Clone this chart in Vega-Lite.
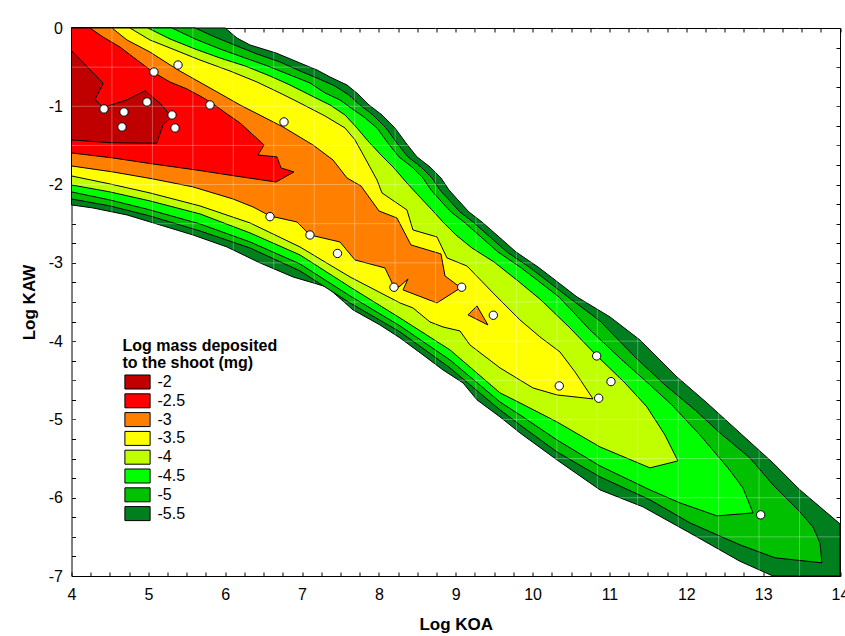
{
"$schema": "https://vega.github.io/schema/vega-lite/v6.json",
"width": 768.5, "height": 548,
"autosize": {"type": "none"},
"padding": {"left": 71.5, "top": 28, "right": 5, "bottom": 60},
"background": "white",
"config": {
 "font": "Liberation Sans",
 "view": {"stroke": null},
 "axis": {"domainColor": "black", "domainWidth": 1, "tickColor": "black", "tickWidth": 1, "labelColor": "black", "labelFont": "Liberation Sans", "labelFontSize": 16, "titleFont": "Liberation Sans", "titleFontSize": 17, "titleFontWeight": "bold", "titleColor": "black", "grid": false, "zindex": 1}
},
"datasets": {
 "contours": [
{"level":"-5.5","poly":1,"x":4,"y":0},{"level":"-5.5","poly":1,"x":6.0,"y":0},{"level":"-5.5","poly":1,"x":6.153,"y":-0.128},{"level":"-5.5","poly":1,"x":6.323,"y":-0.217},{"level":"-5.5","poly":1,"x":6.661,"y":-0.319},{"level":"-5.5","poly":1,"x":6.973,"y":-0.447},{"level":"-5.5","poly":1,"x":7.194,"y":-0.536},{"level":"-5.5","poly":1,"x":7.364,"y":-0.626},{"level":"-5.5","poly":1,"x":7.585,"y":-0.728},{"level":"-5.5","poly":1,"x":7.728,"y":-0.843},{"level":"-5.5","poly":1,"x":7.871,"y":-0.983},{"level":"-5.5","poly":1,"x":8.04,"y":-1.111},{"level":"-5.5","poly":1,"x":8.209,"y":-1.277},{"level":"-5.5","poly":1,"x":8.352,"y":-1.469},{"level":"-5.5","poly":1,"x":8.496,"y":-1.647},{"level":"-5.5","poly":1,"x":8.665,"y":-1.775},{"level":"-5.5","poly":1,"x":8.808,"y":-1.916},{"level":"-5.5","poly":1,"x":8.912,"y":-2.069},{"level":"-5.5","poly":1,"x":9.029,"y":-2.197},{"level":"-5.5","poly":1,"x":9.172,"y":-2.35},{"level":"-5.5","poly":1,"x":9.341,"y":-2.478},{"level":"-5.5","poly":1,"x":9.563,"y":-2.669},{"level":"-5.5","poly":1,"x":9.784,"y":-2.861},{"level":"-5.5","poly":1,"x":10.07,"y":-3.052},{"level":"-5.5","poly":1,"x":10.291,"y":-3.218},{"level":"-5.5","poly":1,"x":10.577,"y":-3.435},{"level":"-5.5","poly":1,"x":11.007,"y":-3.691},{"level":"-5.5","poly":1,"x":11.397,"y":-3.985},{"level":"-5.5","poly":1,"x":11.878,"y":-4.457},{"level":"-5.5","poly":1,"x":12.269,"y":-4.789},{"level":"-5.5","poly":1,"x":12.698,"y":-5.172},{"level":"-5.5","poly":1,"x":13.128,"y":-5.555},{"level":"-5.5","poly":1,"x":13.479,"y":-5.9},{"level":"-5.5","poly":1,"x":13.739,"y":-6.117},{"level":"-5.5","poly":1,"x":14,"y":-6.334},{"level":"-5.5","poly":1,"x":14,"y":-7},{"level":"-5.5","poly":1,"x":13.128,"y":-7},{"level":"-5.5","poly":1,"x":12.698,"y":-6.812},{"level":"-5.5","poly":1,"x":12.047,"y":-6.45},{"level":"-5.5","poly":1,"x":11.436,"y":-6.117},{"level":"-5.5","poly":1,"x":10.877,"y":-5.9},{"level":"-5.5","poly":1,"x":10.317,"y":-5.517},{"level":"-5.5","poly":1,"x":9.836,"y":-5.172},{"level":"-5.5","poly":1,"x":9.576,"y":-4.968},{"level":"-5.5","poly":1,"x":9.277,"y":-4.751},{"level":"-5.5","poly":1,"x":9.095,"y":-4.534},{"level":"-5.5","poly":1,"x":8.834,"y":-4.368},{"level":"-5.5","poly":1,"x":8.574,"y":-4.176},{"level":"-5.5","poly":1,"x":8.275,"y":-3.959},{"level":"-5.5","poly":1,"x":8.014,"y":-3.793},{"level":"-5.5","poly":1,"x":7.663,"y":-3.601},{"level":"-5.5","poly":1,"x":7.325,"y":-3.308},{"level":"-5.5","poly":1,"x":6.882,"y":-3.18},{"level":"-5.5","poly":1,"x":6.453,"y":-3.001},{"level":"-5.5","poly":1,"x":6.023,"y":-2.797},{"level":"-5.5","poly":1,"x":5.581,"y":-2.644},{"level":"-5.5","poly":1,"x":5.152,"y":-2.516},{"level":"-5.5","poly":1,"x":4.722,"y":-2.388},{"level":"-5.5","poly":1,"x":4.28,"y":-2.299},{"level":"-5.5","poly":1,"x":4,"y":-2.26},{"level":"-5.5","poly":1,"x":4,"y":0},
{"level":"-5","poly":2,"x":4,"y":0},{"level":"-5","poly":2,"x":5.607,"y":0},{"level":"-5","poly":2,"x":5.867,"y":-0.115},{"level":"-5","poly":2,"x":6.153,"y":-0.23},{"level":"-5","poly":2,"x":6.414,"y":-0.332},{"level":"-5","poly":2,"x":6.713,"y":-0.434},{"level":"-5","poly":2,"x":6.973,"y":-0.549},{"level":"-5","poly":2,"x":7.194,"y":-0.639},{"level":"-5","poly":2,"x":7.428,"y":-0.741},{"level":"-5","poly":2,"x":7.61,"y":-0.856},{"level":"-5","poly":2,"x":7.754,"y":-0.983},{"level":"-5","poly":2,"x":7.923,"y":-1.111},{"level":"-5","poly":2,"x":8.092,"y":-1.277},{"level":"-5","poly":2,"x":8.235,"y":-1.469},{"level":"-5","poly":2,"x":8.378,"y":-1.647},{"level":"-5","poly":2,"x":8.548,"y":-1.775},{"level":"-5","poly":2,"x":8.691,"y":-1.916},{"level":"-5","poly":2,"x":8.795,"y":-2.069},{"level":"-5","poly":2,"x":8.912,"y":-2.197},{"level":"-5","poly":2,"x":9.055,"y":-2.35},{"level":"-5","poly":2,"x":9.224,"y":-2.478},{"level":"-5","poly":2,"x":9.445,"y":-2.669},{"level":"-5","poly":2,"x":9.667,"y":-2.861},{"level":"-5","poly":2,"x":9.953,"y":-3.052},{"level":"-5","poly":2,"x":10.174,"y":-3.218},{"level":"-5","poly":2,"x":10.46,"y":-3.435},{"level":"-5","poly":2,"x":10.877,"y":-3.742},{"level":"-5","poly":2,"x":11.345,"y":-4.214},{"level":"-5","poly":2,"x":11.722,"y":-4.559},{"level":"-5","poly":2,"x":12.112,"y":-4.878},{"level":"-5","poly":2,"x":12.438,"y":-5.172},{"level":"-5","poly":2,"x":12.828,"y":-5.492},{"level":"-5","poly":2,"x":13.128,"y":-5.836},{"level":"-5","poly":2,"x":13.479,"y":-6.181},{"level":"-5","poly":2,"x":13.648,"y":-6.373},{"level":"-5","poly":2,"x":13.739,"y":-6.577},{"level":"-5","poly":2,"x":13.765,"y":-6.832},{"level":"-5","poly":2,"x":13.154,"y":-6.768},{"level":"-5","poly":2,"x":12.698,"y":-6.602},{"level":"-5","poly":2,"x":12.047,"y":-6.321},{"level":"-5","poly":2,"x":11.527,"y":-6.027},{"level":"-5","poly":2,"x":10.877,"y":-5.734},{"level":"-5","poly":2,"x":10.317,"y":-5.415},{"level":"-5","poly":2,"x":9.836,"y":-5.07},{"level":"-5","poly":2,"x":9.576,"y":-4.879},{"level":"-5","poly":2,"x":8.925,"y":-4.342},{"level":"-5","poly":2,"x":8.275,"y":-3.882},{"level":"-5","poly":2,"x":7.624,"y":-3.512},{"level":"-5","poly":2,"x":6.973,"y":-3.103},{"level":"-5","poly":2,"x":6.323,"y":-2.81},{"level":"-5","poly":2,"x":5.672,"y":-2.593},{"level":"-5","poly":2,"x":5.021,"y":-2.401},{"level":"-5","poly":2,"x":4.501,"y":-2.273},{"level":"-5","poly":2,"x":4,"y":-2.184},{"level":"-5","poly":2,"x":4,"y":0},
{"level":"-4.5","poly":3,"x":4,"y":0},{"level":"-4.5","poly":3,"x":5.308,"y":0},{"level":"-4.5","poly":3,"x":5.607,"y":-0.14},{"level":"-4.5","poly":3,"x":5.932,"y":-0.268},{"level":"-4.5","poly":3,"x":6.258,"y":-0.383},{"level":"-4.5","poly":3,"x":6.518,"y":-0.473},{"level":"-4.5","poly":3,"x":6.843,"y":-0.6},{"level":"-4.5","poly":3,"x":7.103,"y":-0.702},{"level":"-4.5","poly":3,"x":7.299,"y":-0.83},{"level":"-4.5","poly":3,"x":7.494,"y":-0.919},{"level":"-4.5","poly":3,"x":7.637,"y":-1.022},{"level":"-4.5","poly":3,"x":7.806,"y":-1.137},{"level":"-4.5","poly":3,"x":7.975,"y":-1.277},{"level":"-4.5","poly":3,"x":8.118,"y":-1.469},{"level":"-4.5","poly":3,"x":8.261,"y":-1.647},{"level":"-4.5","poly":3,"x":8.43,"y":-1.775},{"level":"-4.5","poly":3,"x":8.574,"y":-1.916},{"level":"-4.5","poly":3,"x":8.678,"y":-2.069},{"level":"-4.5","poly":3,"x":8.795,"y":-2.197},{"level":"-4.5","poly":3,"x":8.938,"y":-2.35},{"level":"-4.5","poly":3,"x":9.107,"y":-2.478},{"level":"-4.5","poly":3,"x":9.328,"y":-2.669},{"level":"-4.5","poly":3,"x":9.55,"y":-2.861},{"level":"-4.5","poly":3,"x":9.836,"y":-3.052},{"level":"-4.5","poly":3,"x":10.057,"y":-3.218},{"level":"-4.5","poly":3,"x":10.343,"y":-3.435},{"level":"-4.5","poly":3,"x":10.747,"y":-3.857},{"level":"-4.5","poly":3,"x":11.163,"y":-4.24},{"level":"-4.5","poly":3,"x":11.527,"y":-4.559},{"level":"-4.5","poly":3,"x":11.813,"y":-4.815},{"level":"-4.5","poly":3,"x":12.177,"y":-5.198},{"level":"-4.5","poly":3,"x":12.542,"y":-5.619},{"level":"-4.5","poly":3,"x":12.737,"y":-5.875},{"level":"-4.5","poly":3,"x":12.868,"y":-6.194},{"level":"-4.5","poly":3,"x":12.399,"y":-6.232},{"level":"-4.5","poly":3,"x":11.917,"y":-6.066},{"level":"-4.5","poly":3,"x":11.527,"y":-5.9},{"level":"-4.5","poly":3,"x":10.877,"y":-5.594},{"level":"-4.5","poly":3,"x":10.317,"y":-5.262},{"level":"-4.5","poly":3,"x":9.836,"y":-4.943},{"level":"-4.5","poly":3,"x":9.576,"y":-4.777},{"level":"-4.5","poly":3,"x":8.925,"y":-4.24},{"level":"-4.5","poly":3,"x":8.275,"y":-3.806},{"level":"-4.5","poly":3,"x":7.624,"y":-3.422},{"level":"-4.5","poly":3,"x":6.973,"y":-3.014},{"level":"-4.5","poly":3,"x":6.323,"y":-2.733},{"level":"-4.5","poly":3,"x":5.672,"y":-2.503},{"level":"-4.5","poly":3,"x":5.021,"y":-2.324},{"level":"-4.5","poly":3,"x":4.501,"y":-2.197},{"level":"-4.5","poly":3,"x":4,"y":-2.094},{"level":"-4.5","poly":3,"x":4,"y":0},
{"level":"-4","poly":4,"x":4,"y":0},{"level":"-4","poly":4,"x":4.995,"y":0},{"level":"-4","poly":4,"x":5.282,"y":-0.14},{"level":"-4","poly":4,"x":5.607,"y":-0.268},{"level":"-4","poly":4,"x":5.932,"y":-0.383},{"level":"-4","poly":4,"x":6.258,"y":-0.485},{"level":"-4","poly":4,"x":6.583,"y":-0.613},{"level":"-4","poly":4,"x":6.843,"y":-0.728},{"level":"-4","poly":4,"x":7.103,"y":-0.856},{"level":"-4","poly":4,"x":7.364,"y":-0.983},{"level":"-4","poly":4,"x":7.559,"y":-1.111},{"level":"-4","poly":4,"x":7.715,"y":-1.277},{"level":"-4","poly":4,"x":7.858,"y":-1.443},{"level":"-4","poly":4,"x":8.027,"y":-1.622},{"level":"-4","poly":4,"x":8.196,"y":-1.788},{"level":"-4","poly":4,"x":8.365,"y":-1.98},{"level":"-4","poly":4,"x":8.521,"y":-2.146},{"level":"-4","poly":4,"x":8.691,"y":-2.324},{"level":"-4","poly":4,"x":8.834,"y":-2.478},{"level":"-4","poly":4,"x":9.003,"y":-2.644},{"level":"-4","poly":4,"x":9.211,"y":-2.81},{"level":"-4","poly":4,"x":9.497,"y":-2.988},{"level":"-4","poly":4,"x":9.81,"y":-3.231},{"level":"-4","poly":4,"x":10.109,"y":-3.474},{"level":"-4","poly":4,"x":10.486,"y":-3.831},{"level":"-4","poly":4,"x":10.838,"y":-4.189},{"level":"-4","poly":4,"x":11.202,"y":-4.534},{"level":"-4","poly":4,"x":11.488,"y":-4.84},{"level":"-4","poly":4,"x":11.722,"y":-5.198},{"level":"-4","poly":4,"x":11.891,"y":-5.53},{"level":"-4","poly":4,"x":11.527,"y":-5.619},{"level":"-4","poly":4,"x":10.877,"y":-5.351},{"level":"-4","poly":4,"x":10.317,"y":-5.032},{"level":"-4","poly":4,"x":9.836,"y":-4.789},{"level":"-4","poly":4,"x":9.576,"y":-4.661},{"level":"-4","poly":4,"x":8.925,"y":-4.112},{"level":"-4","poly":4,"x":8.275,"y":-3.704},{"level":"-4","poly":4,"x":7.624,"y":-3.308},{"level":"-4","poly":4,"x":6.973,"y":-2.899},{"level":"-4","poly":4,"x":6.323,"y":-2.618},{"level":"-4","poly":4,"x":5.672,"y":-2.375},{"level":"-4","poly":4,"x":5.021,"y":-2.209},{"level":"-4","poly":4,"x":4.501,"y":-2.094},{"level":"-4","poly":4,"x":4,"y":-2.005},{"level":"-4","poly":4,"x":4,"y":0},
{"level":"-3.5","poly":5,"x":4,"y":0},{"level":"-3.5","poly":5,"x":4.761,"y":0},{"level":"-3.5","poly":5,"x":5.021,"y":-0.153},{"level":"-3.5","poly":5,"x":5.347,"y":-0.281},{"level":"-3.5","poly":5,"x":5.672,"y":-0.409},{"level":"-3.5","poly":5,"x":6.062,"y":-0.549},{"level":"-3.5","poly":5,"x":6.414,"y":-0.69},{"level":"-3.5","poly":5,"x":6.713,"y":-0.83},{"level":"-3.5","poly":5,"x":6.973,"y":-0.958},{"level":"-3.5","poly":5,"x":7.299,"y":-1.124},{"level":"-3.5","poly":5,"x":7.559,"y":-1.277},{"level":"-3.5","poly":5,"x":7.689,"y":-1.43},{"level":"-3.5","poly":5,"x":7.819,"y":-1.66},{"level":"-3.5","poly":5,"x":7.975,"y":-1.941},{"level":"-3.5","poly":5,"x":8.04,"y":-2.107},{"level":"-3.5","poly":5,"x":8.365,"y":-2.324},{"level":"-3.5","poly":5,"x":8.443,"y":-2.58},{"level":"-3.5","poly":5,"x":8.756,"y":-2.669},{"level":"-3.5","poly":5,"x":8.886,"y":-2.937},{"level":"-3.5","poly":5,"x":9.146,"y":-3.04},{"level":"-3.5","poly":5,"x":9.485,"y":-3.384},{"level":"-3.5","poly":5,"x":9.836,"y":-3.729},{"level":"-3.5","poly":5,"x":10.096,"y":-3.946},{"level":"-3.5","poly":5,"x":10.356,"y":-4.138},{"level":"-3.5","poly":5,"x":10.552,"y":-4.393},{"level":"-3.5","poly":5,"x":10.786,"y":-4.738},{"level":"-3.5","poly":5,"x":10.317,"y":-4.687},{"level":"-3.5","poly":5,"x":10.005,"y":-4.598},{"level":"-3.5","poly":5,"x":9.576,"y":-4.342},{"level":"-3.5","poly":5,"x":9.185,"y":-4.049},{"level":"-3.5","poly":5,"x":9.055,"y":-3.87},{"level":"-3.5","poly":5,"x":8.834,"y":-3.819},{"level":"-3.5","poly":5,"x":8.665,"y":-3.755},{"level":"-3.5","poly":5,"x":8.443,"y":-3.576},{"level":"-3.5","poly":5,"x":8.275,"y":-3.512},{"level":"-3.5","poly":5,"x":7.624,"y":-3.18},{"level":"-3.5","poly":5,"x":6.973,"y":-2.797},{"level":"-3.5","poly":5,"x":6.323,"y":-2.49},{"level":"-3.5","poly":5,"x":5.672,"y":-2.273},{"level":"-3.5","poly":5,"x":5.021,"y":-2.107},{"level":"-3.5","poly":5,"x":4.501,"y":-1.992},{"level":"-3.5","poly":5,"x":4,"y":-1.89},{"level":"-3.5","poly":5,"x":4,"y":0},
{"level":"-3","poly":6,"x":4,"y":0},{"level":"-3","poly":6,"x":4.527,"y":0},{"level":"-3","poly":6,"x":4.722,"y":-0.153},{"level":"-3","poly":6,"x":5.021,"y":-0.307},{"level":"-3","poly":6,"x":5.386,"y":-0.536},{"level":"-3","poly":6,"x":5.802,"y":-0.766},{"level":"-3","poly":6,"x":6.193,"y":-0.983},{"level":"-3","poly":6,"x":6.752,"y":-1.264},{"level":"-3","poly":6,"x":7.142,"y":-1.494},{"level":"-3","poly":6,"x":7.403,"y":-1.686},{"level":"-3","poly":6,"x":7.585,"y":-1.916},{"level":"-3","poly":6,"x":7.767,"y":-2.018},{"level":"-3","poly":6,"x":8.001,"y":-2.337},{"level":"-3","poly":6,"x":8.235,"y":-2.427},{"level":"-3","poly":6,"x":8.417,"y":-2.771},{"level":"-3","poly":6,"x":8.808,"y":-2.886},{"level":"-3","poly":6,"x":8.86,"y":-3.167},{"level":"-3","poly":6,"x":9.016,"y":-3.282},{"level":"-3","poly":6,"x":9.081,"y":-3.308},{"level":"-3","poly":6,"x":8.756,"y":-3.512},{"level":"-3","poly":6,"x":8.314,"y":-3.346},{"level":"-3","poly":6,"x":8.379,"y":-3.205},{"level":"-3","poly":6,"x":8.262,"y":-3.308},{"level":"-3","poly":6,"x":8.196,"y":-3.308},{"level":"-3","poly":6,"x":8.079,"y":-3.065},{"level":"-3","poly":6,"x":7.689,"y":-2.963},{"level":"-3","poly":6,"x":7.494,"y":-2.733},{"level":"-3","poly":6,"x":7.103,"y":-2.644},{"level":"-3","poly":6,"x":6.934,"y":-2.478},{"level":"-3","poly":6,"x":6.583,"y":-2.401},{"level":"-3","poly":6,"x":6.362,"y":-2.286},{"level":"-3","poly":6,"x":6.101,"y":-2.184},{"level":"-3","poly":6,"x":5.581,"y":-2.03},{"level":"-3","poly":6,"x":5.06,"y":-1.928},{"level":"-3","poly":6,"x":4.54,"y":-1.839},{"level":"-3","poly":6,"x":4,"y":-1.762},{"level":"-3","poly":6,"x":4,"y":0},
{"level":"-3","poly":7,"x":9.159,"y":-3.665},{"level":"-3","poly":7,"x":9.276,"y":-3.55},{"level":"-3","poly":7,"x":9.419,"y":-3.793},{"level":"-3","poly":7,"x":9.159,"y":-3.665},
{"level":"-2.5","poly":8,"x":4,"y":0},{"level":"-2.5","poly":8,"x":4.241,"y":0},{"level":"-2.5","poly":8,"x":4.41,"y":-0.115},{"level":"-2.5","poly":8,"x":4.631,"y":-0.243},{"level":"-2.5","poly":8,"x":4.852,"y":-0.409},{"level":"-2.5","poly":8,"x":5.06,"y":-0.562},{"level":"-2.5","poly":8,"x":5.282,"y":-0.69},{"level":"-2.5","poly":8,"x":5.503,"y":-0.779},{"level":"-2.5","poly":8,"x":5.672,"y":-0.868},{"level":"-2.5","poly":8,"x":5.828,"y":-0.958},{"level":"-2.5","poly":8,"x":6.023,"y":-1.098},{"level":"-2.5","poly":8,"x":6.193,"y":-1.213},{"level":"-2.5","poly":8,"x":6.505,"y":-1.494},{"level":"-2.5","poly":8,"x":6.427,"y":-1.622},{"level":"-2.5","poly":8,"x":6.674,"y":-1.647},{"level":"-2.5","poly":8,"x":6.726,"y":-1.788},{"level":"-2.5","poly":8,"x":6.895,"y":-1.839},{"level":"-2.5","poly":8,"x":6.661,"y":-1.967},{"level":"-2.5","poly":8,"x":6.128,"y":-1.89},{"level":"-2.5","poly":8,"x":5.62,"y":-1.813},{"level":"-2.5","poly":8,"x":5.06,"y":-1.737},{"level":"-2.5","poly":8,"x":4.54,"y":-1.66},{"level":"-2.5","poly":8,"x":4,"y":-1.596},{"level":"-2.5","poly":8,"x":4,"y":0},
{"level":"-2","poly":9,"x":4,"y":-0.29},{"level":"-2","poly":9,"x":4.414,"y":-0.706},{"level":"-2","poly":9,"x":4.306,"y":-0.911},{"level":"-2","poly":9,"x":4.414,"y":-1.013},{"level":"-2","poly":9,"x":4.718,"y":-0.92},{"level":"-2","poly":9,"x":4.956,"y":-0.801},{"level":"-2","poly":9,"x":5.152,"y":-0.962},{"level":"-2","poly":9,"x":5.304,"y":-1.133},{"level":"-2","poly":9,"x":5.191,"y":-1.239},{"level":"-2","poly":9,"x":5.109,"y":-1.472},{"level":"-2","poly":9,"x":4.501,"y":-1.465},{"level":"-2","poly":9,"x":4,"y":-1.43},{"level":"-2","poly":9,"x":4,"y":-0.29}
 ],
 "gridx": [{"gx":4.526},{"gx":5.053},{"gx":5.579},{"gx":6.105},{"gx":6.632},{"gx":7.158},{"gx":7.684},{"gx":8.211},{"gx":8.737},{"gx":9.263},{"gx":9.789},{"gx":10.316},{"gx":10.842},{"gx":11.368},{"gx":11.895},{"gx":12.421},{"gx":12.947},{"gx":13.474}],
 "gridy": [{"gy":-0.5},{"gy":-1},{"gy":-1.5},{"gy":-2},{"gy":-2.5},{"gy":-3},{"gy":-3.5},{"gy":-4},{"gy":-4.5},{"gy":-5},{"gy":-5.5},{"gy":-6},{"gy":-6.5}],
 "points": [
{"x":5.386,"y":-0.473},{"x":5.073,"y":-0.562},{"x":4.982,"y":-0.945},{"x":5.802,"y":-0.983},{"x":4.423,"y":-1.034},{"x":4.683,"y":-1.073},{"x":4.657,"y":-1.264},{"x":5.308,"y":-1.111},{"x":5.347,"y":-1.277},{"x":6.765,"y":-1.2},{"x":6.583,"y":-2.41},{"x":7.103,"y":-2.644},{"x":7.461,"y":-2.88},{"x":8.196,"y":-3.311},{"x":9.077,"y":-3.311},{"x":9.489,"y":-3.669},{"x":10.834,"y":-4.189},{"x":10.347,"y":-4.572},{"x":11.02,"y":-4.517},{"x":10.86,"y":-4.729},{"x":12.968,"y":-6.219}
 ]
},
"layer": [
 {
  "data": {"name": "contours"},
  "mark": {"type": "line", "filled": true, "stroke": "black", "strokeWidth": 1, "interpolate": "linear", "clip": false},
  "encoding": {
   "x": {"field": "x", "type": "quantitative", "scale": {"domain": [4, 14], "nice": false, "zero": false},
     "axis": {"orient": "bottom", "ticks": true, "tickSize": -4, "values": [4,4.25,4.5,4.75,5,5.25,5.5,5.75,6,6.25,6.5,6.75,7,7.25,7.5,7.75,8,8.25,8.5,8.75,9,9.25,9.5,9.75,10,10.25,10.5,10.75,11,11.25,11.5,11.75,12,12.25,12.5,12.75,13,13.25,13.5,13.75,14], "labelExpr": "datum.value % 1 == 0 ? '' + datum.value : ''", "labelOverlap": false, "labelFlush": false, "labelPadding": 14, "title": "Log KOA", "titlePadding": 14}},
   "y": {"field": "y", "type": "quantitative", "scale": {"domain": [-7, 0], "nice": false, "zero": false},
     "axis": {"orient": "left", "ticks": true, "tickSize": -4, "values": [0,-0.25,-0.5,-0.75,-1,-1.25,-1.5,-1.75,-2,-2.25,-2.5,-2.75,-3,-3.25,-3.5,-3.75,-4,-4.25,-4.5,-4.75,-5,-5.25,-5.5,-5.75,-6,-6.25,-6.5,-6.75,-7], "labelExpr": "datum.value % 1 == 0 ? '' + datum.value : ''", "labelOverlap": false, "labelFlush": false, "labelPadding": 13, "title": "Log KAW", "titlePadding": 10}},
   "color": {"field": "level", "type": "nominal",
     "scale": {"domain": ["-2","-2.5","-3","-3.5","-4","-4.5","-5","-5.5"], "range": ["#c00000","#ff0000","#ff8000","#ffff00","#c0ff00","#00ff00","#00c000","#007f1f"]},
     "legend": {"orient": "none", "legendX": 51, "legendY": 310, "padding": 0,
       "title": ["Log mass deposited", "to the shoot (mg)"], "titleFontSize": 16, "titleFontWeight": "bold", "titleColor": "black", "titleLineHeight": 17, "titlePadding": 3,
       "labelFontSize": 16, "labelColor": "black", "labelOffset": 12,
       "symbolType": "M-1.8,-1L1.8,-1L1.8,1L-1.8,1Z", "symbolSize": 196, "symbolOffset": 7, "symbolStrokeWidth": 1, "symbolStrokeColor": "black", "rowPadding": 0.8,
       "encode": {"symbols": {"update": {"fill": {"scale": "color", "field": "value"}, "stroke": {"value": "black"}, "opacity": {"value": 1}, "fillOpacity": {"value": 1}}}}}},
   "detail": {"field": "poly", "type": "nominal"},
   "order": {"value": null}
  }
 },
 {
  "data": {"name": "gridx"},
  "mark": {"type": "rule", "color": "white", "opacity": 0.3, "strokeWidth": 1},
  "encoding": {"x": {"field": "gx", "type": "quantitative", "axis": null}}
 },
 {
  "data": {"name": "gridy"},
  "mark": {"type": "rule", "color": "white", "opacity": 0.3, "strokeWidth": 1},
  "encoding": {"y": {"field": "gy", "type": "quantitative", "axis": null}}
 },
 {
  "data": {"name": "points"},
  "mark": {"type": "point", "filled": true, "fill": "white", "stroke": "black", "strokeWidth": 1, "size": 70, "opacity": 1},
  "encoding": {
   "x": {"field": "x", "type": "quantitative", "axis": {"orient": "top", "ticks": true, "tickSize": -4, "values": [4,4.25,4.5,4.75,5,5.25,5.5,5.75,6,6.25,6.5,6.75,7,7.25,7.5,7.75,8,8.25,8.5,8.75,9,9.25,9.5,9.75,10,10.25,10.5,10.75,11,11.25,11.5,11.75,12,12.25,12.5,12.75,13,13.25,13.5,13.75,14], "labels": false, "title": null}},
   "y": {"field": "y", "type": "quantitative", "axis": {"orient": "right", "ticks": true, "tickSize": -4, "values": [0,-0.25,-0.5,-0.75,-1,-1.25,-1.5,-1.75,-2,-2.25,-2.5,-2.75,-3,-3.25,-3.5,-3.75,-4,-4.25,-4.5,-4.75,-5,-5.25,-5.5,-5.75,-6,-6.25,-6.5,-6.75,-7], "labels": false, "title": null}}
  }
 }
]
}
